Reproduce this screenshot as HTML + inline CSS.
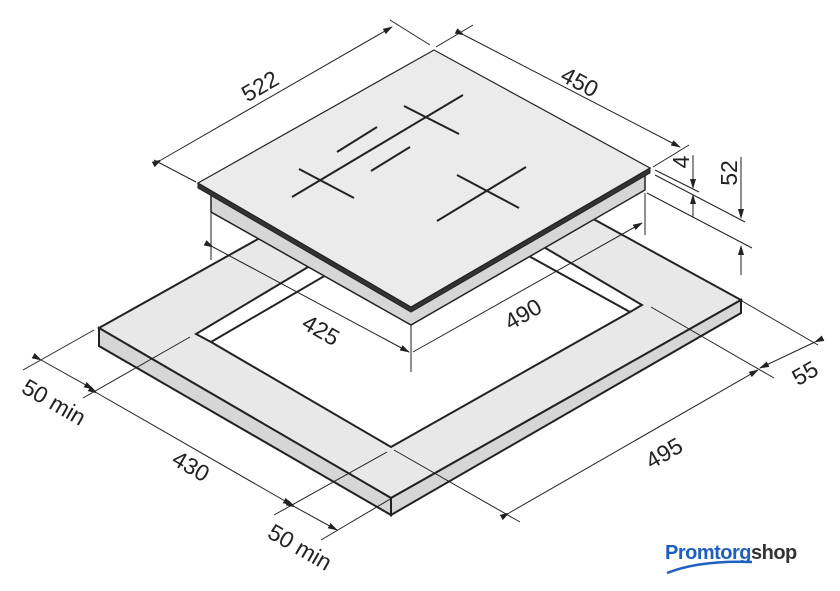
<!DOCTYPE html>
<html><head><meta charset="utf-8"><style>
html,body{margin:0;padding:0;background:#fff}
svg{display:block}
text{font-family:"Liberation Sans",sans-serif;font-size:23px;fill:#222}
</style></head><body>
<svg width="840" height="591" viewBox="0 0 840 591" xmlns="http://www.w3.org/2000/svg">
<defs>
<marker id="a" markerWidth="10" markerHeight="8" refX="9" refY="4" orient="auto" markerUnits="userSpaceOnUse">
<path d="M0,1 L10,4 L0,7 Z" fill="#222"/></marker>
</defs>
<polygon points="99,328 442,136 741,300 391,498" fill="#e8e8e8" stroke="#222" stroke-width="2"/>
<polygon points="99,328 391,498 391,515 99,346" fill="#d6d6d6" stroke="#222" stroke-width="2"/>
<polygon points="391,498 741,300 741,313 391,515" fill="#d6d6d6" stroke="#222" stroke-width="2"/>
<polygon points="196,334 442,187 642,305 630,312 391,447 211,342" fill="#fff" stroke="#222" stroke-width="2"/>
<line x1="211" y1="342" x2="400" y2="232" stroke="#222" stroke-width="2"/>
<line x1="630" y1="312" x2="480" y2="229" stroke="#222" stroke-width="2"/>
<g stroke="#222" stroke-width="1" fill="none">
<line x1="211" y1="213" x2="211" y2="260"/>
<line x1="411" y1="325" x2="411" y2="372"/>
<line x1="645" y1="193" x2="645" y2="235"/>
<line x1="213" y1="247" x2="409" y2="352" marker-start="url(#a)" marker-end="url(#a)"/>
<line x1="413" y1="352" x2="642" y2="223" marker-end="url(#a)"/>
<line x1="23" y1="370" x2="94" y2="330"/>
<line x1="83" y1="398" x2="190" y2="337"/>
<line x1="41" y1="360" x2="93" y2="389" marker-start="url(#a)" marker-end="url(#a)"/>
<line x1="97" y1="393" x2="292" y2="505" marker-start="url(#a)" marker-end="url(#a)"/>
<line x1="295" y1="507" x2="337" y2="530" marker-start="url(#a)" marker-end="url(#a)"/>
<line x1="274" y1="515" x2="387" y2="452"/>
<line x1="321" y1="540" x2="392" y2="498"/>
<line x1="394" y1="450" x2="520" y2="522"/>
<line x1="651" y1="307" x2="774" y2="378"/>
<line x1="509" y1="513" x2="758" y2="370" marker-start="url(#a)" marker-end="url(#a)"/>
<line x1="742" y1="301" x2="818" y2="345"/>
<line x1="815" y1="342" x2="760" y2="368" marker-start="url(#a)" marker-end="url(#a)"/>
<line x1="655" y1="175" x2="745" y2="222"/>
<line x1="647" y1="193" x2="752" y2="248"/>
<line x1="655" y1="170" x2="699" y2="192"/>
<line x1="693" y1="155" x2="693" y2="188" marker-end="url(#a)"/>
<line x1="693" y1="217" x2="693" y2="195" marker-end="url(#a)"/>
<line x1="741" y1="157" x2="741" y2="218" marker-end="url(#a)"/>
<line x1="741" y1="275" x2="741" y2="246" marker-end="url(#a)"/>
<line x1="154" y1="160" x2="196" y2="182"/>
<line x1="390" y1="20" x2="430" y2="45"/>
<line x1="161" y1="160" x2="392" y2="27" marker-start="url(#a)" marker-end="url(#a)"/>
<line x1="436" y1="47" x2="473" y2="25"/>
<line x1="653" y1="167" x2="689" y2="145"/>
<line x1="464" y1="35" x2="680" y2="147" marker-start="url(#a)" marker-end="url(#a)"/>
</g>
<polygon points="211,190 411,310 645,175 645,190 411,325 211,212" fill="#d6d6d6" stroke="#222" stroke-width="1.5"/>
<polygon points="198,183 411,307 650,168 650,173 411,312 198,188" fill="#333" stroke="#222" stroke-width="1"/>
<polygon points="198,183 434,50 650,168 411,307" fill="#ebebeb" stroke="#222" stroke-width="1.2"/>
<g stroke="#222" stroke-width="2">
<line x1="292" y1="197" x2="463" y2="95"/>
<line x1="299" y1="169" x2="354" y2="198"/>
<line x1="404" y1="106" x2="459" y2="134"/>
<line x1="337" y1="152" x2="377" y2="127"/>
<line x1="371" y1="171" x2="410" y2="147"/>
<line x1="437" y1="221" x2="526" y2="167"/>
<line x1="457" y1="175" x2="519" y2="208"/>
</g>
<text transform="translate(264,93) rotate(-30)" text-anchor="middle">522</text>
<text transform="translate(576,89) rotate(28)" text-anchor="middle">450</text>
<text transform="translate(689,162) rotate(-90)" text-anchor="middle">4</text>
<text transform="translate(737,173) rotate(-90)" text-anchor="middle">52</text>
<text transform="translate(317,337) rotate(30)" text-anchor="middle">425</text>
<text transform="translate(527,321) rotate(-30)" text-anchor="middle">490</text>
<text transform="translate(50,409) rotate(30)" text-anchor="middle">50 min</text>
<text transform="translate(187,473) rotate(30)" text-anchor="middle">430</text>
<text transform="translate(296,554) rotate(30)" text-anchor="middle">50 min</text>
<text transform="translate(668,460) rotate(-30)" text-anchor="middle">495</text>
<text transform="translate(809,380) rotate(-30)" text-anchor="middle">55</text>
<text x="665" y="559" style="font-size:20px;font-weight:bold;fill:#1f5fc0;letter-spacing:-0.5px">Promtorg<tspan style="fill:#333">shop</tspan></text>
<path d="M667,573 Q700,560 752,562" stroke="#1f5fc0" stroke-width="2.5" fill="none"/>
</svg>
</body></html>
